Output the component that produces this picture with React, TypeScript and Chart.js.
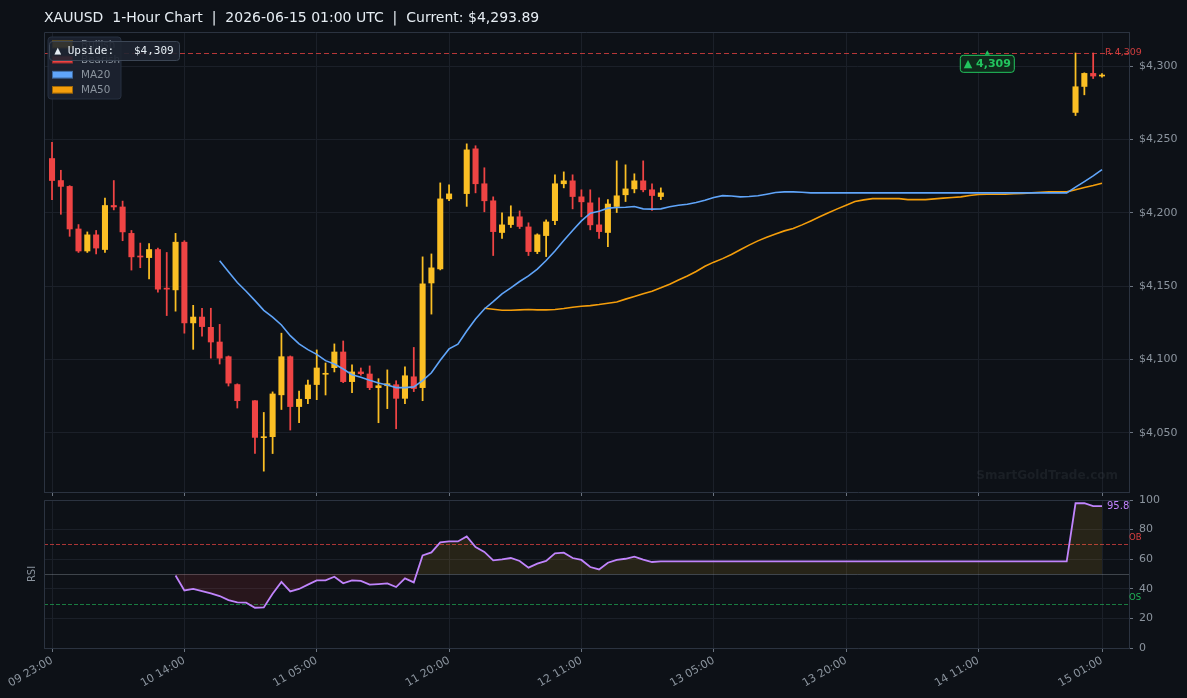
import React, { useEffect, useRef } from "react";
import { Chart, registerables } from "chart.js";

Chart.register(...registerables);

// ---------------- data ----------------
const titleText = "XAUUSD  1-Hour Chart  |  2026-06-15 01:00 UTC  |  Current: $4,293.89";
const tickIndex = [0, 15, 30, 45, 60, 75, 90, 105, 119];
const tickLabels = ["09 23:00", "10 14:00", "11 05:00", "11 20:00", "12 11:00", "13 05:00", "13 20:00", "14 11:00", "15 01:00"];
const priceTicks = [4050, 4100, 4150, 4200, 4250, 4300];
const rsiTicks = [0, 20, 40, 60, 80, 100];

const candleIndex = [
  0, 1, 2, 3, 4, 5, 6, 7, 8, 9, 10, 11, 12, 13, 14, 15, 16, 17, 18, 19, 20, 21,
  23, 24, 25, 26, 27, 28, 29, 30, 31, 32, 33, 34, 35, 36, 37, 38, 39, 40, 41, 42, 43, 44, 45,
  47, 48, 49, 50, 51, 52, 53, 54, 55, 56, 57, 58, 59, 60, 61, 62, 63, 64, 65, 66, 67, 68, 69,
  116, 117, 118, 119,
];
const opens = [
  4237, 4222, 4218, 4189, 4174, 4185, 4175, 4205, 4204, 4186, 4170.3, 4169.5, 4175, 4148.6, 4147.5, 4180, 4125, 4129, 4122, 4112, 4102, 4083,
  4072, 4046.8, 4047.5, 4076, 4102, 4068, 4073.4, 4083, 4090, 4094.5, 4105.2, 4085, 4091.6, 4090.2, 4080.9, 4082.2, 4082.9, 4073.6, 4088.3, 4080.9, 4152.2, 4161.8, 4209.5,
  4213.1, 4243.6, 4219.8, 4208.2, 4186.6, 4192, 4197.3, 4190.4, 4173.6, 4184.5, 4194.7, 4219.8, 4221.8, 4210.9, 4206.8, 4191.8, 4186.6, 4204.3, 4212.3, 4216.3, 4221.8, 4215.7, 4211.1,
  4268.4, 4286.1, 4295, 4293.2,
];
const highs = [
  4248, 4229, 4218.5, 4192, 4187, 4188, 4210, 4222, 4208, 4188, 4179.4, 4179, 4176, 4173, 4186, 4181, 4137, 4135, 4135, 4124, 4102.5, 4083.5,
  4072, 4064, 4078, 4118, 4102.5, 4078.6, 4086, 4106.6, 4097.7, 4110.7, 4112.7, 4096.4, 4094.3, 4095.7, 4087, 4093, 4085.6, 4095.1, 4108.3, 4170, 4172, 4220.4, 4219.1,
  4247, 4245.7, 4230.7, 4210.9, 4200, 4204.8, 4201.3, 4193.2, 4185.7, 4195.2, 4225.9, 4227.9, 4225.9, 4215.7, 4215.7, 4210.2, 4209, 4235.4, 4232.7, 4226.6, 4235.4, 4219.8, 4217,
  4308.9, 4295.4, 4308.9, 4294.8,
];
const lows = [
  4209, 4199, 4184, 4173, 4173, 4172, 4173, 4202, 4181, 4161, 4162.6, 4155, 4146, 4130, 4133, 4118, 4107, 4116, 4101, 4097, 4082, 4067,
  4036, 4024, 4036, 4066, 4052, 4057, 4070, 4072.7, 4075.9, 4091.6, 4084.3, 4077.5, 4089.4, 4079.5, 4057, 4066.6, 4052.9, 4070, 4078.2, 4072, 4131, 4161.1, 4208.2,
  4204.4, 4213.6, 4200.7, 4170.9, 4182.5, 4190, 4189.3, 4170.9, 4172.2, 4170.2, 4192, 4217, 4202.7, 4197.3, 4188.4, 4182.5, 4177, 4200.2, 4207.7, 4213.6, 4214.3, 4201.6, 4209,
  4266.3, 4280.4, 4291.5, 4292.5,
];
const closes = [
  4222, 4218, 4189, 4174, 4185, 4176, 4205, 4204, 4187, 4170, 4169.9, 4175, 4148, 4148, 4180, 4125, 4129, 4122.5, 4112, 4101, 4084, 4072,
  4047, 4047.4, 4076.6, 4102, 4068, 4073, 4082.7, 4094.3, 4090.5, 4105.2, 4085, 4091.6, 4090.4, 4080.9, 4082.2, 4083.6, 4073.6, 4089, 4080.3, 4151.6, 4162.5, 4209.5, 4212.9,
  4242.9, 4219.8, 4208.2, 4187.2, 4191.8, 4197.3, 4190.7, 4173.6, 4185, 4193.8, 4219.8, 4221.8, 4211.1, 4207.5, 4191.8, 4187.2, 4206, 4211.6, 4216.3, 4221.8, 4215.7, 4211.8, 4213.6,
  4285.9, 4295, 4293.2, 4293.89,
];

const ma20Start = 19;
const ma20 = [
  4167.3, 4159.8, 4152.5, 4146.6, 4140.2, 4133.6, 4128.9, 4123.6, 4116.3, 4110.7,
  4106.8, 4103.6, 4099.3, 4097.0, 4093.6, 4089.7, 4088.0, 4085.9, 4084.0, 4082.7,
  4080.9, 4080.9, 4081.4, 4085.7, 4091.0, 4099.6, 4107.3, 4110.5, 4119.5, 4127.7,
  4134.5, 4139.5, 4144.8, 4148.9, 4153.2, 4157.0, 4161.6, 4167.5, 4174.0, 4181.1,
  4188.0, 4194.5, 4199.8, 4201.1, 4203.2, 4203.6, 4203.8, 4204.3, 4202.7, 4202.5,
  4202.7, 4204.1, 4205.2, 4205.9, 4207.0, 4208.6, 4210.4, 4211.7, 4211.5, 4210.9,
  4211.1, 4211.6, 4212.7, 4213.8, 4214.3, 4214.3, 4214.0, 4213.6,
  4213.6, 4213.6, 4213.6, 4213.6, 4213.6, 4213.6, 4213.6, 4213.6, 4213.6, 4213.6,
  4213.6, 4213.6, 4213.6, 4213.6, 4213.6, 4213.6, 4213.6, 4213.6, 4213.6, 4213.6,
  4213.6, 4213.6, 4213.6, 4213.6, 4213.6, 4213.6, 4213.6, 4213.6, 4213.6,
  4217.5, 4221.3, 4225.2, 4229.5,
];

const ma50Start = 49;
const ma50 = [
  4135.0, 4134.3, 4133.6, 4133.6, 4133.9, 4134.1, 4133.9, 4133.9, 4134.1, 4134.8,
  4135.7, 4136.4, 4136.8, 4137.5, 4138.4, 4139.3, 4141.2, 4143.0, 4144.8, 4146.6,
  4148.9, 4151.4, 4154.3, 4157.0, 4160.0, 4163.6, 4166.4, 4168.8, 4171.6, 4174.8,
  4178.0, 4180.9, 4183.3, 4185.6, 4187.7, 4189.3, 4191.8, 4194.5, 4197.3, 4200.0,
  4202.7, 4205.2, 4207.7, 4208.8, 4209.7, 4209.7, 4209.7, 4209.7, 4209.0, 4209.0,
  4209.0, 4209.5, 4210.0, 4210.4, 4210.9, 4211.8, 4212.5, 4212.7, 4212.7, 4212.7,
  4213.0, 4213.2, 4213.6, 4214.0, 4214.3, 4214.3, 4214.3, 4215.7, 4217.2, 4218.6,
  4220.2,
];

const rsiStart = 14;
const rsi = [
  49.0, 38.9, 39.9, 38.5, 36.9, 35.1, 32.4, 30.8, 30.6, 27.2,
  27.4, 36.7, 44.6, 38.2, 39.9, 42.8, 45.7, 45.7, 48.2, 43.7,
  45.7, 45.4, 42.8, 43.2, 43.7, 41.2, 47.0, 44.3, 62.6, 64.6,
  71.4, 72.0, 72.0, 75.4, 68.2, 64.9, 59.2, 59.9, 60.8, 58.8,
  54.3, 57.0, 58.8, 63.9, 64.4, 60.8, 59.5, 54.7, 53.1, 57.6,
  59.5, 60.3, 61.7, 59.7, 58.1, 58.5,
  58.5, 58.5, 58.5, 58.5, 58.5, 58.5, 58.5, 58.5, 58.5, 58.5,
  58.5, 58.5, 58.5, 58.5, 58.5, 58.5, 58.5, 58.5, 58.5, 58.5,
  58.5, 58.5, 58.5, 58.5, 58.5, 58.5, 58.5, 58.5, 58.5, 58.5,
  58.5, 58.5, 58.5, 58.5, 58.5, 58.5, 58.5, 58.5, 58.5, 58.5,
  58.5, 58.5, 58.5, 58.5, 58.5, 58.5,
  97.8, 97.8, 95.8, 95.8,
];

const resistanceLevel = 4309;
const upsideIndex = 106;
const lastIndex = 119;
const lastRsiLabel = "95.8";

// ---------------- style ----------------
const BG = "#0d1117";
const GRID = "#1b2029";
const SPINE = "#2b3340";
const TICKC = "#6b7480";
const LABEL = "#8b949e";
const BULL = "#fbbf24";
const BEAR = "#ef4444";
const MA20C = "#60a5fa";
const MA50C = "#f59e0b";
const RSIC = "#c084fc";
const FONT = '"DejaVu Sans", sans-serif';
const X_MIN = -0.91;
const X_MAX = 122.06;

Chart.defaults.font.family = FONT;

function xAxis(showLabels: boolean, height: number) {
  return {
    type: "linear",
    min: X_MIN,
    max: X_MAX,
    offset: false,
    afterBuildTicks: (s: any) => {
      s.ticks = tickIndex.map((v) => ({ value: v }));
    },
    afterFit: (s: any) => {
      s.height = height;
    },
    grid: { color: GRID, tickColor: TICKC, tickLength: 4, offset: false, drawTicks: true },
    border: { color: SPINE },
    ticks: {
      display: showLabels,
      autoSkip: false,
      maxRotation: 30,
      minRotation: 30,
      color: LABEL,
      padding: 2,
      font: { size: 11, family: FONT },
      callback: (_v: any, i: number) => tickLabels[i],
    },
  };
}

function spines(chart: any) {
  const { ctx, chartArea: a } = chart;
  ctx.save();
  ctx.strokeStyle = SPINE;
  ctx.lineWidth = 1;
  ctx.beginPath();
  ctx.moveTo(Math.round(a.left) + 0.5, Math.round(a.bottom));
  ctx.lineTo(Math.round(a.left) + 0.5, Math.round(a.top) + 0.5);
  ctx.lineTo(Math.round(a.right), Math.round(a.top) + 0.5);
  ctx.stroke();
  ctx.restore();
}

function rrect(ctx: CanvasRenderingContext2D, x: number, y: number, w: number, h: number, r: number) {
  ctx.beginPath();
  ctx.moveTo(x + r, y);
  ctx.lineTo(x + w - r, y);
  ctx.quadraticCurveTo(x + w, y, x + w, y + r);
  ctx.lineTo(x + w, y + h - r);
  ctx.quadraticCurveTo(x + w, y + h, x + w - r, y + h);
  ctx.lineTo(x + r, y + h);
  ctx.quadraticCurveTo(x, y + h, x, y + h - r);
  ctx.lineTo(x, y + r);
  ctx.quadraticCurveTo(x, y, x + r, y);
  ctx.closePath();
}

const mainDecor = {
  id: "mainDecor",
  beforeDraw(chart: any) {
    const { ctx, width, height } = chart;
    ctx.save();
    ctx.fillStyle = BG;
    ctx.fillRect(0, 0, width, height);
    ctx.restore();
  },
  beforeDatasetsDraw(chart: any) {
    const { ctx, chartArea: a } = chart;
    ctx.save();
    ctx.font = `bold 12px ${FONT}`;
    ctx.fillStyle = "rgba(139,148,158,0.11)";
    ctx.textAlign = "right";
    ctx.textBaseline = "middle";
    ctx.fillText("SmartGoldTrade.com", a.right - 11, a.bottom - 16);
    ctx.restore();
  },
  afterDatasetsDraw(chart: any) {
    const { ctx, chartArea: a, scales } = chart;
    const y = scales.y.getPixelForValue(resistanceLevel);
    ctx.save();
    // resistance line
    ctx.strokeStyle = "rgba(239,68,68,0.75)";
    ctx.lineWidth = 1;
    ctx.setLineDash([5, 3]);
    ctx.beginPath();
    ctx.moveTo(a.left, Math.round(y) + 0.5);
    ctx.lineTo(a.right, Math.round(y) + 0.5);
    ctx.stroke();
    ctx.setLineDash([]);
    ctx.font = `9.5px ${FONT}`;
    ctx.fillStyle = "rgba(239,68,68,0.85)";
    ctx.textAlign = "left";
    ctx.textBaseline = "middle";
    ctx.fillText("R 4,309", scales.x.getPixelForValue(lastIndex) + 3, y);
    // upside marker + badge
    const mx = scales.x.getPixelForValue(upsideIndex);
    ctx.fillStyle = "#22c55e";
    ctx.beginPath();
    ctx.moveTo(mx, y - 2.5);
    ctx.lineTo(mx + 2.5, y + 2);
    ctx.lineTo(mx - 2.5, y + 2);
    ctx.closePath();
    ctx.fill();
    const bw = 54, bh = 17;
    const by = y + 2.5;
    rrect(ctx, mx - bw / 2, by, bw, bh, 3);
    ctx.fillStyle = "#0f2a1b";
    ctx.fill();
    ctx.strokeStyle = "#22c55e";
    ctx.lineWidth = 1;
    ctx.stroke();
    ctx.font = `bold 11px ${FONT}`;
    ctx.fillStyle = "#22c55e";
    ctx.textAlign = "center";
    ctx.textBaseline = "middle";
    ctx.fillText("▲ 4,309", mx, by + bh / 2 + 0.5);
    ctx.restore();
  },
  afterDraw(chart: any) {
    const { ctx } = chart;
    spines(chart);
    ctx.save();
    // title
    ctx.font = `14px ${FONT}`;
    ctx.fillStyle = "#e6edf3";
    ctx.textAlign = "left";
    ctx.textBaseline = "alphabetic";
    ctx.fillText(titleText, 44, 21.5);
    // legend
    rrect(ctx, 48, 37, 73, 62, 3);
    ctx.fillStyle = "rgba(28,35,47,0.95)";
    ctx.fill();
    ctx.strokeStyle = "#273040";
    ctx.stroke();
    const items = [
      ["Bullish", BULL],
      ["Bearish", BEAR],
      ["MA20", MA20C],
      ["MA50", MA50C],
    ];
    ctx.font = `10.4px ${FONT}`;
    ctx.textBaseline = "middle";
    items.forEach(([label, color], i) => {
      const cy = 44.5 + i * 15.1;
      ctx.fillStyle = color;
      ctx.fillRect(52, cy - 3.8, 21, 7.6);
      ctx.strokeStyle = "rgba(0,0,0,0.35)";
      ctx.strokeRect(52.5, cy - 3.3, 20, 6.6);
      ctx.fillStyle = LABEL;
      ctx.fillText(label, 81, cy + 0.5);
    });
    // upside box
    rrect(ctx, 49.5, 41.5, 130, 19, 3);
    ctx.fillStyle = "rgba(30,37,49,0.9)";
    ctx.fill();
    ctx.strokeStyle = "#3c4655";
    ctx.stroke();
    ctx.font = `11px "DejaVu Sans Mono", monospace`;
    ctx.fillStyle = "#e6edf3";
    ctx.textBaseline = "middle";
    ctx.fillText("▲ Upside:   $4,309", 54.5, 51.5);
    ctx.restore();
  },
};

const rsiDecor = {
  id: "rsiDecor",
  beforeDatasetsDraw(chart: any) {
    const { ctx, chartArea: a, scales } = chart;
    const line = (v: number, color: string, dash: number[]) => {
      const y = Math.round(scales.y.getPixelForValue(v)) + 0.5;
      ctx.strokeStyle = color;
      ctx.setLineDash(dash);
      ctx.beginPath();
      ctx.moveTo(a.left, y);
      ctx.lineTo(a.right, y);
      ctx.stroke();
    };
    ctx.save();
    ctx.lineWidth = 1;
    line(70, "rgba(239,68,68,0.7)", [4, 2]);
    line(30, "rgba(34,197,94,0.6)", [4, 2]);
    line(50, "rgba(139,148,158,0.4)", []);
    ctx.restore();
  },
  afterDraw(chart: any) {
    const { ctx, chartArea: a, scales } = chart;
    spines(chart);
    ctx.save();
    ctx.textAlign = "left";
    ctx.textBaseline = "bottom";
    ctx.font = `8.5px ${FONT}`;
    ctx.fillStyle = "rgba(239,68,68,0.9)";
    ctx.fillText("OB", a.right, scales.y.getPixelForValue(70) - 2);
    ctx.fillStyle = "rgba(34,197,94,0.9)";
    ctx.fillText("OS", a.right, scales.y.getPixelForValue(30) - 2);
    ctx.font = `10px ${FONT}`;
    ctx.fillStyle = RSIC;
    ctx.textBaseline = "middle";
    ctx.fillText(lastRsiLabel, scales.x.getPixelForValue(lastIndex) + 5, scales.y.getPixelForValue(rsi[rsi.length - 1]));
    ctx.translate(32, (a.top + a.bottom) / 2);
    ctx.rotate(-Math.PI / 2);
    ctx.textAlign = "center";
    ctx.font = `10px ${FONT}`;
    ctx.fillStyle = LABEL;
    ctx.fillText("RSI", 0, 0);
    ctx.restore();
  },
};

function buildMain(canvas: HTMLCanvasElement) {
  const wicks: any[] = [];
  const bodies: any[] = [];
  const colors: string[] = [];
  candleIndex.forEach((x, k) => {
    wicks.push({ x, y: [lows[k], highs[k]] });
    bodies.push({ x, y: [opens[k], closes[k]] });
    colors.push(closes[k] >= opens[k] ? BULL : BEAR);
  });
  const ma20Pts = ma20.map((v, k) => ({ x: ma20Start + k, y: v }));
  const ma50Pts = ma50.map((v, k) => ({ x: ma50Start + k, y: v }));
  return new Chart(canvas, {
    type: "bar",
    data: {
      datasets: [
        { type: "line", data: ma20Pts, borderColor: MA20C, borderWidth: 1.6, pointRadius: 0, tension: 0, order: 0 },
        { type: "line", data: ma50Pts, borderColor: MA50C, borderWidth: 1.6, pointRadius: 0, tension: 0, order: 0 },
        { type: "bar", data: bodies, backgroundColor: colors, borderWidth: 0, barThickness: 5.4, minBarLength: 1, grouped: false, order: 1 },
        { type: "bar", data: wicks, backgroundColor: colors, borderWidth: 0, barThickness: 1.1, grouped: false, order: 2 },
      ] as any,
    },
    options: {
      responsive: false,
      animation: false,
      events: [],
      layout: { padding: { top: 32, left: 44, right: 0, bottom: 201 } },
      plugins: { legend: { display: false }, tooltip: { enabled: false } },
      scales: {
        x: xAxis(false, 5) as any,
        y: {
          type: "linear",
          position: "right",
          min: 4009.8,
          max: 4323.2,
          afterBuildTicks: (s: any) => {
            s.ticks = priceTicks.map((v) => ({ value: v }));
          },
          afterFit: (s: any) => {
            s.width = 58;
          },
          grid: { color: GRID, tickColor: TICKC, tickLength: 4 },
          border: { color: SPINE },
          ticks: {
            color: LABEL,
            padding: 6,
            font: { size: 11, family: FONT },
            callback: (v: any) => "$" + Number(v).toLocaleString("en-US"),
          },
        } as any,
      },
    },
    plugins: [mainDecor],
  });
}

function buildRsi(canvas: HTMLCanvasElement) {
  const pts = rsi.map((v, k) => ({ x: rsiStart + k, y: v }));
  return new Chart(canvas, {
    type: "line",
    data: {
      datasets: [
        {
          data: pts,
          borderColor: RSIC,
          borderWidth: 1.8,
          pointRadius: 0,
          tension: 0,
          fill: { target: { value: 50 }, above: "rgba(251,191,36,0.11)", below: "rgba(239,68,68,0.12)" },
        },
      ] as any,
    },
    options: {
      responsive: false,
      animation: false,
      events: [],
      layout: { padding: { top: 500, left: 44, right: 0, bottom: 0 } },
      plugins: { legend: { display: false }, tooltip: { enabled: false } },
      scales: {
        x: xAxis(true, 50) as any,
        y: {
          type: "linear",
          position: "right",
          min: 0,
          max: 100,
          afterBuildTicks: (s: any) => {
            s.ticks = rsiTicks.map((v) => ({ value: v }));
          },
          afterFit: (s: any) => {
            s.width = 58;
          },
          grid: { color: GRID, tickColor: TICKC, tickLength: 4 },
          border: { color: SPINE },
          ticks: { color: LABEL, padding: 6, font: { size: 11, family: FONT } },
        } as any,
      },
    },
    plugins: [rsiDecor],
  });
}

export default function App() {
  const mainRef = useRef<HTMLCanvasElement>(null);
  const rsiRef = useRef<HTMLCanvasElement>(null);
  useEffect(() => {
    document.body.style.margin = "0";
    document.body.style.background = BG;
    const charts: Chart[] = [];
    if (mainRef.current) charts.push(buildMain(mainRef.current));
    if (rsiRef.current) charts.push(buildRsi(rsiRef.current));
    return () => charts.forEach((c) => c.destroy());
  }, []);
  return (
    <div style={{ position: "relative", width: 1187, height: 698, background: BG, overflow: "hidden" }}>
      <canvas ref={mainRef} width={1187} height={698} style={{ position: "absolute", left: 0, top: 0 }} />
      <canvas ref={rsiRef} width={1187} height={698} style={{ position: "absolute", left: 0, top: 0 }} />
    </div>
  );
}
